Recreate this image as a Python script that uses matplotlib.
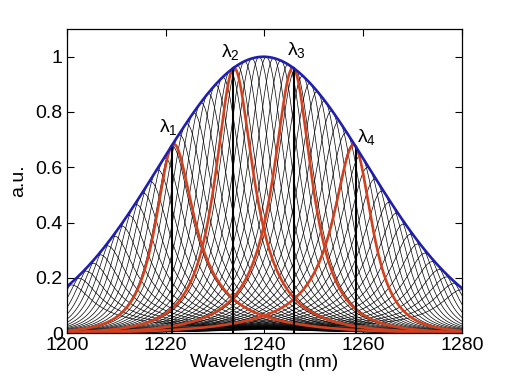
import numpy as np
import matplotlib
matplotlib.use("Agg")
import matplotlib.pyplot as plt

plt.rcParams['font.family'] = ['Liberation Sans', 'DejaVu Sans']
plt.rcParams['mathtext.fontset'] = 'custom'
plt.rcParams['mathtext.rm'] = 'Liberation Sans'
plt.rcParams['mathtext.it'] = 'Liberation Sans'

# source spectrum (blue envelope)
env_center = 1239.8   # nm
env_sigma = 21.06     # nm
# filter linewidth (half width, Lorentzian)
filt_hw = 4.8         # nm

# filter centre wavelengths of the black scan curves
scan_centers = [1199.9, 1201.4, 1202.9, 1204.4, 1205.9, 1207.4, 1208.9, 1210.4,
                1211.9, 1213.4, 1214.9, 1216.4, 1217.9, 1219.4, 1220.9, 1222.4,
                1223.9, 1225.4, 1226.9, 1228.4, 1229.9, 1231.4, 1232.9, 1234.4,
                1235.9, 1237.4, 1238.9, 1240.4, 1241.9, 1243.4, 1244.9, 1246.4,
                1247.9, 1249.4, 1250.9, 1252.4, 1253.9, 1255.4, 1256.9, 1258.4,
                1259.9, 1261.4, 1262.9, 1264.4, 1265.9, 1267.4, 1268.9, 1270.4,
                1271.9, 1273.4, 1274.9, 1276.4, 1277.9, 1279.4, 1280.9]

# highlighted channels
lam_centers = [1221.2, 1233.7, 1245.9, 1258.5]
lam_labels = [r'λ$_1$', r'λ$_2$', r'λ$_3$', r'λ$_4$']
lam_label_x = [1220.6, 1233.2, 1246.4, 1260.7]
lam_label_y = [0.745, 1.016, 1.024, 0.708]

x_ticks = [1200, 1220, 1240, 1260, 1280]
y_ticks = [0, 0.2, 0.4, 0.6, 0.8, 1]
y_ticklabels = ['0', '0.2', '0.4', '0.6', '0.8', '1']


def envelope(x):
    return np.exp(-(x - env_center) ** 2 / (2 * env_sigma ** 2))


def filtered(x, c):
    return envelope(x) / (1 + ((x - c) / filt_hw) ** 2)


wl = np.linspace(1200, 1280, 1600)

fig = plt.figure(figsize=(5.10, 3.83), dpi=100)
ax = fig.add_axes([0.131, 0.1305, 0.775, 0.7935])

for c in scan_centers:
    ax.plot(wl, filtered(wl, c), color='black', lw=0.5)

for c in lam_centers:
    ax.plot(wl, filtered(wl, c), color='#d2401e', lw=1.9)

for c in lam_centers:
    ax.plot([c, c], [0, envelope(c)], color='black', lw=1.5)

ax.plot(wl, envelope(wl), color='#1e1eb0', lw=1.9)

for lx, ly, lt in zip(lam_label_x, lam_label_y, lam_labels):
    ax.text(lx, ly, lt, fontsize=14, ha='center', va='center')

ax.set_xlim(1200, 1280)
ax.set_ylim(0, 1.1)
ax.set_xticks(x_ticks)
ax.set_yticks(y_ticks)
ax.set_yticklabels(y_ticklabels)
ax.tick_params(direction='in', top=True, right=True, length=5, labelsize=14, pad=3)
ax.set_xlabel('Wavelength (nm)', fontsize=14, labelpad=0)
ax.set_ylabel('a.u.', fontsize=14, labelpad=6)
for s in ax.spines.values():
    s.set_linewidth(0.9)

fig.savefig('out.png', dpi=100)
